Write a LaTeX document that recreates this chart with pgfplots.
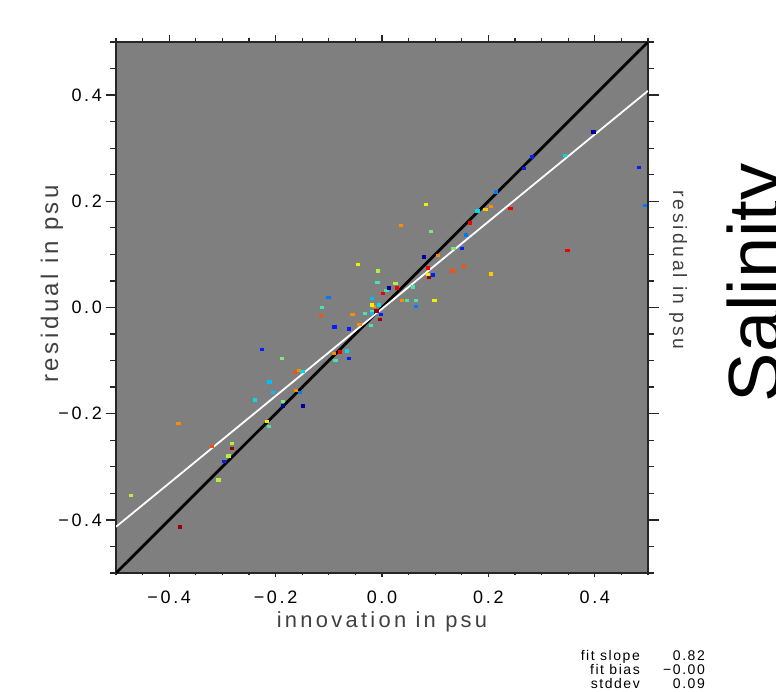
\documentclass[border=0pt]{standalone}
\usepackage{fontspec}
\setmainfont{Liberation Sans}
\newfontfamily\idl[LetterSpace=15]{Liberation Sans}
\newfontfamily\idls[LetterSpace=11]{Liberation Sans}
\usepackage{pgfplots}
\pgfplotsset{compat=1.18}
\definecolor{bgg}{RGB}{127,127,127}
\definecolor{cDR}{RGB}{150,0,0}
\definecolor{cR}{RGB}{240,0,0}
\definecolor{cOR}{RGB}{255,80,0}
\definecolor{cO}{RGB}{255,140,0}
\definecolor{cG}{RGB}{255,200,0}
\definecolor{cY}{RGB}{240,240,0}
\definecolor{cYG}{RGB}{180,240,60}
\definecolor{cLG}{RGB}{130,230,120}
\definecolor{cAQ}{RGB}{70,230,170}
\definecolor{cC}{RGB}{0,220,230}
\definecolor{cSB}{RGB}{0,190,255}
\definecolor{cDB}{RGB}{0,120,255}
\definecolor{cB}{RGB}{0,30,255}
\definecolor{cN}{RGB}{0,0,160}
\pgfplotsset{
  frame/.style={
    at={(116pt,118pt)}, anchor=south west,
    scale only axis, width=532pt, height=531pt,
    xmin=-0.5, xmax=0.5, ymin=-0.5, ymax=0.5,
    tick align=outside,
    tick style={black!85, line width=1.3pt},
  },
  pt/.style={only marks, mark=square*, mark size=1.2pt, mark options={xscale=1.35, draw=none}},
}
\begin{document}
\begin{tikzpicture}
\path[use as bounding box] (0pt,0pt) rectangle (776pt,691pt);
% main axis
\begin{axis}[frame,
  axis background/.style={fill=bgg},
  axis line style={black!85, line width=1.5pt},
  xtick=\empty,
  ytick={-0.4,-0.2,0,0.2,0.4},
  yticklabels={−0.4,−0.2,0.0,0.2,0.4},
  minor ytick={-0.5,-0.45,-0.35,-0.3,-0.25,-0.15,-0.1,-0.05,0.05,0.1,0.15,0.25,0.3,0.35,0.45,0.5},
  ytick pos=both, yticklabel pos=left,
  major tick length=10.5pt, minor tick length=6pt,
  yticklabel style={font=\idl\fontsize{18}{18}\selectfont},
]
\addplot[black, line width=2.8pt] coordinates {(-0.5,-0.5) (0.5,0.5)};
\addplot[white, line width=1.8pt] coordinates {(-0.5,-0.413) (0.5,0.408)};
\addplot[pt, color=cDR] coordinates {(-0.283,-0.265) (-0.380,-0.413) (-0.011,-0.006) (-0.004,-0.022) (0.088,0.057)};
\addplot[pt, color=cR] coordinates {(0.027,0.037) (0.001,0.027) (0.241,0.187) (0.165,0.160) (0.086,0.075) (0.348,0.108) (-0.079,-0.083)};
\addplot[pt, color=cOR] coordinates {(-0.164,-0.122) (-0.320,-0.261) (-0.115,-0.015) (0.154,0.078) (0.132,0.069)};
\addplot[pt, color=cO] coordinates {(-0.156,-0.118) (-0.162,-0.156) (-0.383,-0.218) (0.035,0.155) (0.037,0.014) (-0.016,0.003) (-0.056,-0.013) (-0.043,-0.032) (-0.091,-0.086) (0.205,0.191) (0.104,0.098)};
\addplot[pt, color=cG] coordinates {(0.194,0.185) (0.205,0.064)};
\addplot[pt, color=cY] coordinates {(-0.046,0.082) (-0.019,0.005) (0.082,0.194) (0.098,0.014) (-0.217,-0.214) (0.086,0.063)};
\addplot[pt, color=cYG] coordinates {(-0.283,-0.256) (-0.289,-0.279) (-0.308,-0.324) (-0.473,-0.353) (-0.008,0.069) (0.025,0.046)};
\addplot[pt, color=cLG] coordinates {(-0.188,-0.095) (0.092,0.144) (0.134,0.112) (0.047,0.014) (-0.186,-0.176)};
\addplot[pt, color=cAQ] coordinates {(-0.009,0.048) (0.008,0.033) (0.046,0.014) (-0.113,0.0) (-0.019,-0.007) (-0.033,-0.011) (-0.088,-0.099) (0.058,0.039) (0.064,0.014) (-0.213,-0.224) (-0.021,-0.033)};
\addplot[pt, color=cC] coordinates {(-0.150,-0.120) (-0.239,-0.174) (-0.006,0.005) (-0.067,-0.081) (0.179,0.182) (0.344,0.287)};
\addplot[pt, color=cSB] coordinates {(-0.212,-0.140) (-0.205,-0.160) (-0.019,0.017) (-0.020,-0.011)};
\addplot[pt, color=cDB] coordinates {(-0.154,-0.160) (-0.101,0.019) (0.214,0.218) (0.157,0.137) (0.064,0.003) (0.494,0.193)};
\addplot[pt, color=cB] coordinates {(-0.226,-0.079) (-0.297,-0.290) (-0.003,-0.013) (-0.090,-0.036) (-0.062,-0.040) (-0.063,-0.095) (0.150,0.112) (0.095,0.062) (0.281,0.284) (0.483,0.264) (0.267,0.262)};
\addplot[pt, color=cN] coordinates {(-0.187,-0.185) (-0.149,-0.185) (0.013,0.037) (0.078,0.096) (0.397,0.331)};
\end{axis}
% top ticks
\begin{axis}[frame,
  axis line style={draw=none},
  ytick=\empty,
  xtick={-0.4,-0.2,0,0.2,0.4}, xticklabels={},
  minor xtick={-0.5,-0.45,-0.35,-0.3,-0.25,-0.15,-0.1,-0.05,0.05,0.1,0.15,0.25,0.3,0.35,0.45,0.5},
  xtick pos=right,
  major tick length=7pt, minor tick length=4.3pt,
]
\end{axis}
% bottom ticks with labels
\begin{axis}[frame,
  axis line style={draw=none},
  ytick=\empty,
  xtick={-0.4,-0.2,0,0.2,0.4}, xticklabels={−0.4,−0.2,0.0,0.2,0.4},
  minor xtick={-0.5,-0.45,-0.35,-0.3,-0.25,-0.15,-0.1,-0.05,0.05,0.1,0.15,0.25,0.3,0.35,0.45,0.5},
  xtick pos=left,
  major tick length=4.3pt, minor tick length=2.2pt,
  xticklabel style={font=\idl\fontsize{18}{18}\selectfont, yshift=-10pt},
]
\end{axis}
\node[rotate=90, inner sep=0pt, font=\idl\fontsize{24}{24}\selectfont, text=black!75] at (52pt,407pt) {residual in psu};
\node[rotate=-90, inner sep=0pt, font=\idl\fontsize{19.3}{20}\selectfont, text=black!75] at (678pt,421pt) {residual in psu};
\node[inner sep=0pt, font=\idl\fontsize{21.9}{22}\selectfont, text=black!75] at (382pt,69pt) {innovation in psu};
\node[rotate=90, anchor=north, inner sep=0pt, font=\fontsize{74}{74}\selectfont] at (727pt,408pt) {Salinity};
\begin{scope}[every node/.style={inner sep=0pt, anchor=base east, font=\idls\fontsize{14}{14}\selectfont}]
\node at (640pt,31pt) {fit slope};
\node at (705pt,31pt) {0.82};
\node at (640pt,17pt) {fit bias};
\node at (705pt,17pt) {−0.00};
\node at (640pt,3pt) {stddev};
\node at (705pt,3pt) {0.09};
\end{scope}
\end{tikzpicture}
\end{document}
